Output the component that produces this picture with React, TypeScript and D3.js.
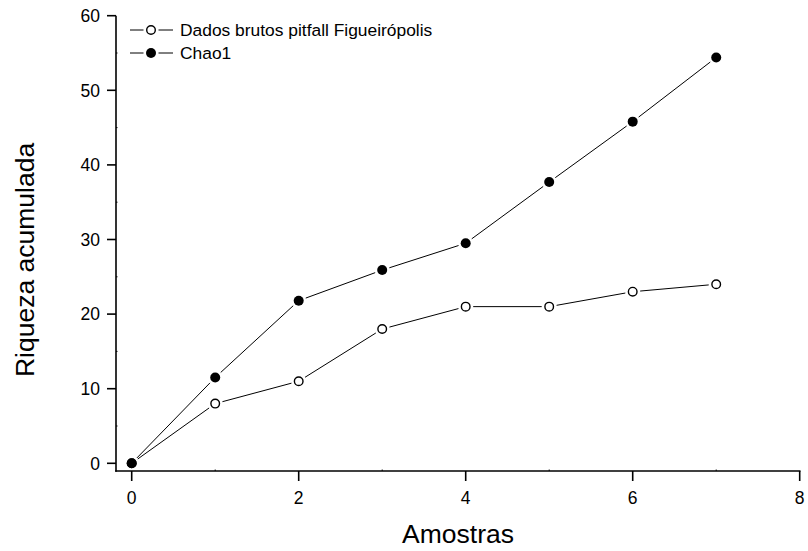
import React from "react";
import * as d3 from "d3";

// Accumulated richness curves per number of samples
const samples = [0, 1, 2, 3, 4, 5, 6, 7];
const rawPitfall = [0, 8, 11, 18, 21, 21, 23, 24];
const chao1 = [0, 11.5, 21.8, 25.9, 29.5, 37.7, 45.8, 54.4];

const xTicks = [0, 2, 4, 6, 8];
const xMinor = [1, 3, 5, 7];
const yTicks = [0, 10, 20, 30, 40, 50, 60];
const yMinor = [5, 15, 25, 35, 45, 55];

const seriesNames = ["Dados brutos pitfall Figueirópolis", "Chao1"];

const W = 808;
const H = 551;
const FONT = "Arial, 'Liberation Sans', Helvetica, sans-serif";

const x = d3.scaleLinear().domain([0, 8]).range([131.7, 799.7]);
const y = d3.scaleLinear().domain([0, 60]).range([463.3, 15.7]);

const axisX = 116;
const axisY = 471;
const R = 5;
const GAP = 2.5;

function segments(vals: number[]) {
  const segs: { x1: number; y1: number; x2: number; y2: number }[] = [];
  for (let i = 0; i < vals.length - 1; i++) {
    const ax = x(samples[i]);
    const ay = y(vals[i]);
    const bx = x(samples[i + 1]);
    const by = y(vals[i + 1]);
    const dx = bx - ax;
    const dy = by - ay;
    const len = Math.hypot(dx, dy);
    const off = R + GAP;
    if (len <= off * 2) continue;
    const ux = dx / len;
    const uy = dy / len;
    segs.push({ x1: ax + ux * off, y1: ay + uy * off, x2: bx - ux * off, y2: by - uy * off });
  }
  return segs;
}

function Series({ vals, filled }: { vals: number[]; filled: boolean }) {
  return (
    <g>
      {segments(vals).map((s, i) => (
        <line key={i} x1={s.x1} y1={s.y1} x2={s.x2} y2={s.y2} stroke="#000" strokeWidth={1} />
      ))}
      {vals.map((v, i) => (
        <circle
          key={i}
          cx={x(samples[i])}
          cy={y(v)}
          r={filled ? R : R - 0.7}
          fill={filled ? "#000" : "#fff"}
          stroke="#000"
          strokeWidth={filled ? 0 : 1.4}
        />
      ))}
    </g>
  );
}

function LegendRow({ yPos, filled, label }: { yPos: number; filled: boolean; label: string }) {
  const cx = 151;
  return (
    <g>
      <line x1={130} x2={cx - R - 2.5} y1={yPos} y2={yPos} stroke="#000" strokeWidth={1} />
      <line x1={cx + R + 2.5} x2={173} y1={yPos} y2={yPos} stroke="#000" strokeWidth={1} />
      <circle
        cx={cx}
        cy={yPos}
        r={filled ? R : R - 0.7}
        fill={filled ? "#000" : "#fff"}
        stroke="#000"
        strokeWidth={filled ? 0 : 1.4}
      />
      <text x={180} y={yPos} dy="0.36em" fontSize={17.4} fontFamily={FONT}>
        {label}
      </text>
    </g>
  );
}

export default function App() {
  return (
    <div style={{ position: "absolute", left: 0, top: 0 }}>
      <svg width={W} height={H} style={{ display: "block", background: "#fff" }}>
        {/* axes */}
        <line x1={axisX} x2={axisX} y1={y(60)} y2={axisY + 0.75} stroke="#000" strokeWidth={1.6} />
        <line x1={axisX - 0.8} x2={x(8) + 0.8} y1={axisY} y2={axisY} stroke="#000" strokeWidth={1.6} />

        {yTicks.map((t) => (
          <g key={t}>
            <line x1={axisX - 9} x2={axisX} y1={y(t)} y2={y(t)} stroke="#000" strokeWidth={1.6} />
            <text
              x={axisX - 16}
              y={y(t)}
              dy="0.36em"
              textAnchor="end"
              fontSize={17.5}
              fontFamily={FONT}
            >
              {t}
            </text>
          </g>
        ))}
        {yMinor.map((t) => (
          <line key={t} x1={axisX} x2={axisX + 1.5} y1={y(t)} y2={y(t)} stroke="#000" strokeWidth={1} />
        ))}

        {xTicks.map((t) => (
          <g key={t}>
            <line x1={x(t)} x2={x(t)} y1={axisY} y2={axisY + 10} stroke="#000" strokeWidth={1.6} />
            <text x={x(t)} y={axisY + 33} textAnchor="middle" fontSize={17.5} fontFamily={FONT}>
              {t}
            </text>
          </g>
        ))}
        {xMinor.map((t) => (
          <line key={t} x1={x(t)} x2={x(t)} y1={axisY} y2={axisY - 1.5} stroke="#000" strokeWidth={1} />
        ))}

        {/* axis titles */}
        <text x={458} y={543} textAnchor="middle" fontSize={26.5} fontFamily={FONT}>
          Amostras
        </text>
        <text
          transform={`translate(34, 260) rotate(-90)`}
          textAnchor="middle"
          fontSize={26.5}
          fontFamily={FONT}
        >
          Riqueza acumulada
        </text>

        <Series vals={rawPitfall} filled={false} />
        <Series vals={chao1} filled={true} />

        <LegendRow yPos={30} filled={false} label={seriesNames[0]} />
        <LegendRow yPos={53} filled={true} label={seriesNames[1]} />
      </svg>
    </div>
  );
}
